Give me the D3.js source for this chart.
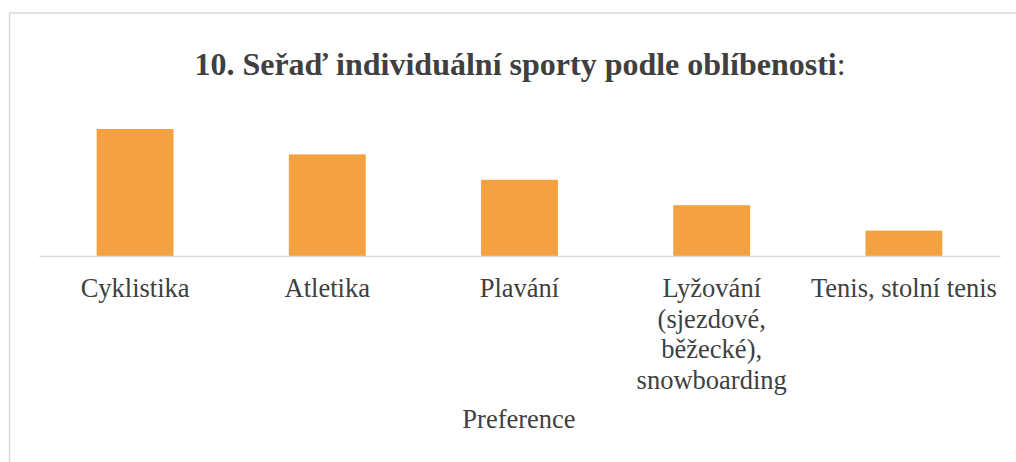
<!DOCTYPE html>
<html>
<head>
<meta charset="utf-8">
<script src="https://cdn.jsdelivr.net/npm/d3@7"></script>
<style>
  body { margin: 0; background: #fff; }
  svg { display: block; }
</style>
</head>
<body>
<div id="chart"></div>
<script>
// data
const categories = ["Cyklistika", "Atletika", "Plavání", "Lyžování (sjezdové, běžecké), snowboarding", "Tenis, stolní tenis"];
const values = [5, 4, 3, 2, 1];
const titleText = "10. Seřaď individuální sporty podle oblíbenosti";
const axisTitle = "Preference";

const width = 1016, height = 462;
const plot = { left: 39, right: 1000, top: 103.6, bottom: 256 };
const serif = "'Liberation Serif', 'Times New Roman', serif";

const svg = d3.select("#chart").append("svg")
  .attr("width", width)
  .attr("height", height);

// chart frame (clipped by the window on the right and bottom)
svg.append("rect")
  .attr("x", 9.5).attr("y", 13)
  .attr("width", 1030).attr("height", 470)
  .attr("fill", "#fff")
  .attr("stroke", "#d9d9d9")
  .attr("stroke-width", 1.5);

const x = d3.scaleBand()
  .domain(categories)
  .range([plot.left, plot.right])
  .padding(0);

const y = d3.scaleLinear()
  .domain([0, 6])
  .range([plot.bottom, plot.top]);

const barW = x.bandwidth() * 0.4;

svg.selectAll("rect.bar")
  .data(values)
  .enter()
  .append("rect")
  .attr("class", "bar")
  .attr("x", (d, i) => x(categories[i]) + (x.bandwidth() - barW) / 2)
  .attr("y", d => y(d))
  .attr("width", barW)
  .attr("height", d => y(0) - y(d))
  .attr("fill", "#f4a142");

// category axis
const xAxis = d3.axisBottom(x).tickSize(0).tickPadding(0);
const gx = svg.append("g")
  .attr("transform", "translate(0," + plot.bottom + ")")
  .call(xAxis);

gx.select(".domain")
  .attr("stroke", "#d9d9d9")
  .attr("stroke-width", 1.5);

gx.selectAll(".tick text")
  .attr("font-family", serif)
  .attr("font-size", "26.5px")
  .attr("fill", "#404040")
  .attr("dy", null)
  .attr("y", 41)
  .each(function (d) { wrap(d3.select(this), d, x.bandwidth() + 4); });

function wrap(text, label, maxW) {
  const words = label.split(" ");
  text.text(null);
  let line = [];
  let n = 0;
  let tspan = text.append("tspan").attr("x", 0).attr("y", 41);
  words.forEach(w => {
    line.push(w);
    tspan.text(line.join(" "));
    if (tspan.node().getComputedTextLength() > maxW && line.length > 1) {
      line.pop();
      tspan.text(line.join(" "));
      line = [w];
      n++;
      tspan = text.append("tspan").attr("x", 0).attr("y", 41 + n * 30.5).text(w);
    }
  });
}

// title
const title = svg.append("text")
  .attr("x", 520)
  .attr("y", 75)
  .attr("text-anchor", "middle")
  .attr("font-family", serif)
  .attr("font-size", "32px")
  .attr("fill", "#404040");
title.append("tspan").attr("font-weight", "bold").text(titleText);
title.append("tspan").text(":");

// axis title
svg.append("text")
  .attr("x", 519)
  .attr("y", 428)
  .attr("text-anchor", "middle")
  .attr("font-family", serif)
  .attr("font-size", "26.5px")
  .attr("fill", "#404040")
  .text(axisTitle);
</script>
</body>
</html>
